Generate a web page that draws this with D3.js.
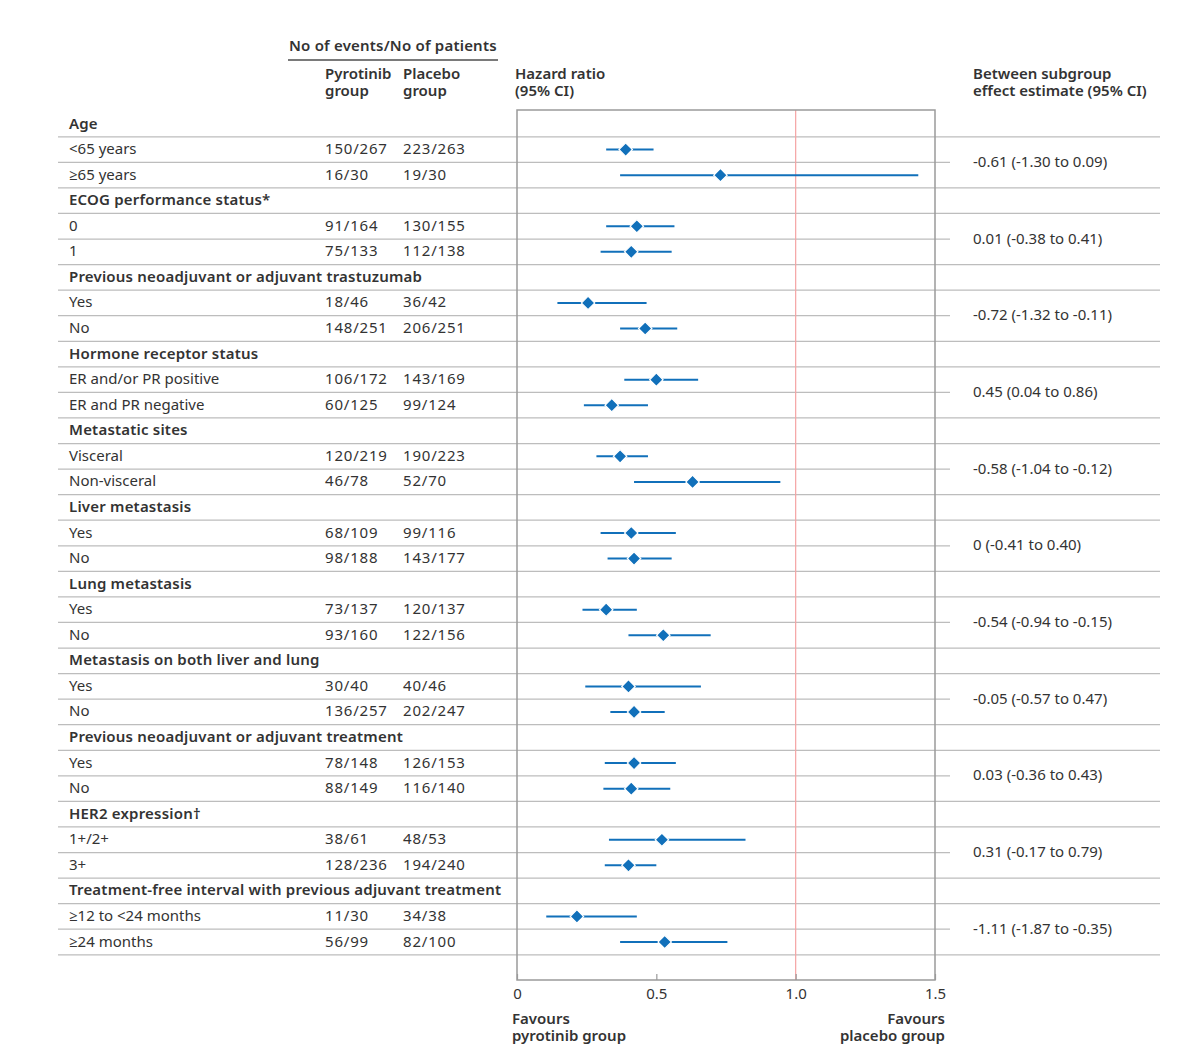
<!DOCTYPE html>
<html>
<head>
<meta charset="utf-8">
<script src="https://cdn.jsdelivr.net/npm/d3@7"></script>
<style>
  body { margin: 0; background: #fff; }
  svg text { font-family: "Noto Sans", "Open Sans", sans-serif; fill: #333; }
  .bold { font-weight: 600; }
</style>
</head>
<body>
<svg id="chart"></svg>
<script>
// Group headers and subgroup rows
const groupNames = [
    "Age",
    "ECOG performance status*",
    "Previous neoadjuvant or adjuvant trastuzumab",
    "Hormone receptor status",
    "Metastatic sites",
    "Liver metastasis",
    "Lung metastasis",
    "Metastasis on both liver and lung",
    "Previous neoadjuvant or adjuvant treatment",
    "HER2 expression\u2020",
    "Treatment-free interval with previous adjuvant treatment"
];
const subgroupNames = [
    ["<65 years", "\u226565 years"],
    ["0", "1"],
    ["Yes", "No"],
    ["ER and/or PR positive", "ER and PR negative"],
    ["Visceral", "Non-visceral"],
    ["Yes", "No"],
    ["Yes", "No"],
    ["Yes", "No"],
    ["Yes", "No"],
    ["1+/2+", "3+"],
    ["\u226512 to <24 months", "\u226524 months"]
];
const pyrotinibEvents = [
    ["150/267", "16/30"], ["91/164", "75/133"], ["18/46", "148/251"], ["106/172", "60/125"],
    ["120/219", "46/78"], ["68/109", "98/188"], ["73/137", "93/160"], ["30/40", "136/257"],
    ["78/148", "88/149"], ["38/61", "128/236"], ["11/30", "56/99"]
];
const placeboEvents = [
    ["223/263", "19/30"], ["130/155", "112/138"], ["36/42", "206/251"], ["143/169", "99/124"],
    ["190/223", "52/70"], ["99/116", "143/177"], ["120/137", "122/156"], ["40/46", "202/247"],
    ["126/153", "116/140"], ["48/53", "194/240"], ["34/38", "82/100"]
];
const hazardRatio = [
    [0.39, 0.73], [0.43, 0.41], [0.255, 0.46], [0.50, 0.34], [0.37, 0.63], [0.41, 0.42],
    [0.32, 0.525], [0.40, 0.42], [0.42, 0.41], [0.52, 0.40], [0.215, 0.53]
];
const ciLower = [
    [0.32, 0.37], [0.32, 0.30], [0.145, 0.37], [0.385, 0.24], [0.285, 0.42], [0.30, 0.325],
    [0.235, 0.40], [0.245, 0.335], [0.315, 0.31], [0.33, 0.315], [0.105, 0.37]
];
const ciUpper = [
    [0.49, 1.44], [0.565, 0.555], [0.465, 0.575], [0.65, 0.47], [0.47, 0.945], [0.57, 0.555],
    [0.43, 0.695], [0.66, 0.53], [0.57, 0.55], [0.82, 0.50], [0.43, 0.755]
];
const betweenEstimate = [
    "-0.61 (-1.30 to 0.09)", "0.01 (-0.38 to 0.41)", "-0.72 (-1.32 to -0.11)",
    "0.45 (0.04 to 0.86)", "-0.58 (-1.04 to -0.12)", "0 (-0.41 to 0.40)",
    "-0.54 (-0.94 to -0.15)", "-0.05 (-0.57 to 0.47)", "0.03 (-0.36 to 0.43)",
    "0.31 (-0.17 to 0.79)", "-1.11 (-1.87 to -0.35)"
];
const tickValues = [0, 0.5, 1.0, 1.5];
const tickLabels = ["0", "0.5", "1.0", "1.5"];

// Page size
const width = 1177;
const height = 1046;

const svg = d3.select('#chart')
    .attr('width', width)
    .attr('height', height);

// Build flat row list: header then two subgroups for each group
const rows = [];
groupNames.forEach((g, gi) => {
    rows.push({ type: 'header', label: g, group: gi });
    subgroupNames[gi].forEach((s, si) => {
        rows.push({
            type: 'sub', label: s, group: gi, sub: si,
            pyr: pyrotinibEvents[gi][si], pla: placeboEvents[gi][si],
            hr: hazardRatio[gi][si], lo: ciLower[gi][si], hi: ciUpper[gi][si]
        });
    });
});

// Scales
const yScale = d3.scaleLinear()
    .domain([0, rows.length - 1])
    .range([124, 942]);
const step = yScale(1) - yScale(0);

const xScale = d3.scaleLinear()
    .domain([0, 1.5])
    .range([517, 935]);

const plotTop = 110;
const plotBottom = 980;
const col = { label: 69, pyr: 325, pla: 403, est: 973, lineLeft: 58, lineRight: 1160, tickRight: 950 };

// Separator lines under each row
svg.append('g')
    .selectAll('line')
    .data(rows)
    .enter()
    .append('line')
    .attr('x1', col.lineLeft)
    .attr('x2', d => (d.type === 'sub' && d.sub === 0) ? col.tickRight : col.lineRight)
    .attr('y1', (d, i) => yScale(i) + step / 2)
    .attr('y2', (d, i) => yScale(i) + step / 2)
    .attr('stroke', '#bdbdbd')
    .attr('stroke-width', 1.3);

// Reference line at 1.0
svg.append('line')
    .attr('x1', xScale(1)).attr('x2', xScale(1))
    .attr('y1', plotTop).attr('y2', plotBottom)
    .attr('stroke', '#f5a3a3')
    .attr('stroke-width', 1.2);

// Plot box
svg.append('rect')
    .attr('x', xScale(0))
    .attr('y', plotTop)
    .attr('width', xScale(1.5) - xScale(0))
    .attr('height', plotBottom - plotTop)
    .attr('fill', 'none')
    .attr('stroke', '#9a9a9a')
    .attr('stroke-width', 1.5);

// x axis
const xAxis = svg.append('g')
    .attr('transform', `translate(0, ${plotBottom})`)
    .call(d3.axisBottom(xScale)
        .tickValues(tickValues)
        .tickSize(-6)
        .tickPadding(8)
        .tickFormat((d, i) => tickLabels[i]));
xAxis.select('.domain').remove();
xAxis.selectAll('.tick line').attr('stroke', '#9a9a9a').attr('stroke-width', 1.2);
xAxis.selectAll('.tick text')
    .style('font-family', '"Noto Sans", "Open Sans", sans-serif')
    .style('font-size', '15px')
    .attr('fill', '#444');

// Row labels
const textRows = svg.append('g');
textRows.selectAll('text.label')
    .data(rows)
    .enter()
    .append('text')
    .attr('class', d => d.type === 'header' ? 'label bold' : 'label')
    .attr('x', col.label)
    .attr('y', (d, i) => yScale(i))
    .attr('dy', '0.3em')
    .style('font-size', '15px')
    .style('letter-spacing', d => d.type === 'header' ? '0.2px' : '0px')
    .text(d => d.label);

const subRows = rows.map((d, i) => Object.assign({ idx: i }, d)).filter(d => d.type === 'sub');

textRows.selectAll('text.pyr')
    .data(subRows)
    .enter()
    .append('text')
    .attr('class', 'pyr')
    .attr('x', col.pyr)
    .attr('y', d => yScale(d.idx))
    .attr('dy', '0.3em')
    .style('font-size', '15px')
    .style('letter-spacing', '0.8px')
    .text(d => d.pyr);

textRows.selectAll('text.pla')
    .data(subRows)
    .enter()
    .append('text')
    .attr('class', 'pla')
    .attr('x', col.pla)
    .attr('y', d => yScale(d.idx))
    .attr('dy', '0.3em')
    .style('font-size', '15px')
    .style('letter-spacing', '0.8px')
    .text(d => d.pla);

// Confidence intervals and point estimates
const marks = svg.append('g');
marks.selectAll('line.ci')
    .data(subRows)
    .enter()
    .append('line')
    .attr('class', 'ci')
    .attr('x1', d => xScale(d.lo))
    .attr('x2', d => xScale(d.hi))
    .attr('y1', d => yScale(d.idx))
    .attr('y2', d => yScale(d.idx))
    .attr('stroke', '#1170ba')
    .attr('stroke-width', 2);

marks.selectAll('path.pt')
    .data(subRows)
    .enter()
    .append('path')
    .attr('class', 'pt')
    .attr('d', d3.symbol(d3.symbolSquare, 90))
    .attr('transform', d => `translate(${xScale(d.hr)},${yScale(d.idx)}) rotate(45)`)
    .attr('fill', '#1170ba')
    .attr('stroke', '#fff')
    .attr('stroke-width', 1.2);

// Between subgroup estimates, centred on the pair of subgroup rows
const headerIdx = rows.map((d, i) => d.type === 'header' ? i : -1).filter(i => i >= 0);
svg.append('g')
    .selectAll('text')
    .data(betweenEstimate)
    .enter()
    .append('text')
    .attr('x', col.est)
    .attr('y', (d, i) => yScale(headerIdx[i] + 1.5))
    .attr('dy', '0.3em')
    .style('font-size', '15px')
    .text(d => d);

// Column headers
const head = svg.append('g');
head.append('text').attr('class', 'bold').attr('x', 289).attr('y', 46).attr('dy', '0.35em')
    .style('font-size', '15px').style('letter-spacing', '0.2px').text('No of events/No of patients');
head.append('line').attr('x1', 288).attr('x2', 498).attr('y1', 60).attr('y2', 60)
    .attr('stroke', '#7a7a7a').attr('stroke-width', 2);

const headerLines = [
    { x: col.pyr, lines: ['Pyrotinib', 'group'] },
    { x: col.pla, lines: ['Placebo', 'group'] },
    { x: 515, lines: ['Hazard ratio', '(95% CI)'] },
    { x: col.est, lines: ['Between subgroup', 'effect estimate (95% CI)'] }
];
headerLines.forEach(h => {
    const t = head.append('text').attr('class', 'bold')
        .attr('y', 74).attr('dy', '0.35em')
        .style('font-size', '15px');
    h.lines.forEach((line, j) => {
        t.append('tspan').attr('x', h.x).attr('dy', j === 0 ? '0.35em' : 17).text(line);
    });
});

// Favours labels
[['Favours', 'pyrotinib group'], ['Favours', 'placebo group']].forEach((pair, k) => {
    const t = head.append('text').attr('class', 'bold')
        .attr('text-anchor', k === 0 ? 'start' : 'end')
        .attr('y', 1019)
        .style('font-size', '15px');
    pair.forEach((line, j) => {
        t.append('tspan').attr('x', k === 0 ? 512 : 945).attr('dy', j === 0 ? '0.35em' : 17).text(line);
    });
});
</script>
</body>
</html>
